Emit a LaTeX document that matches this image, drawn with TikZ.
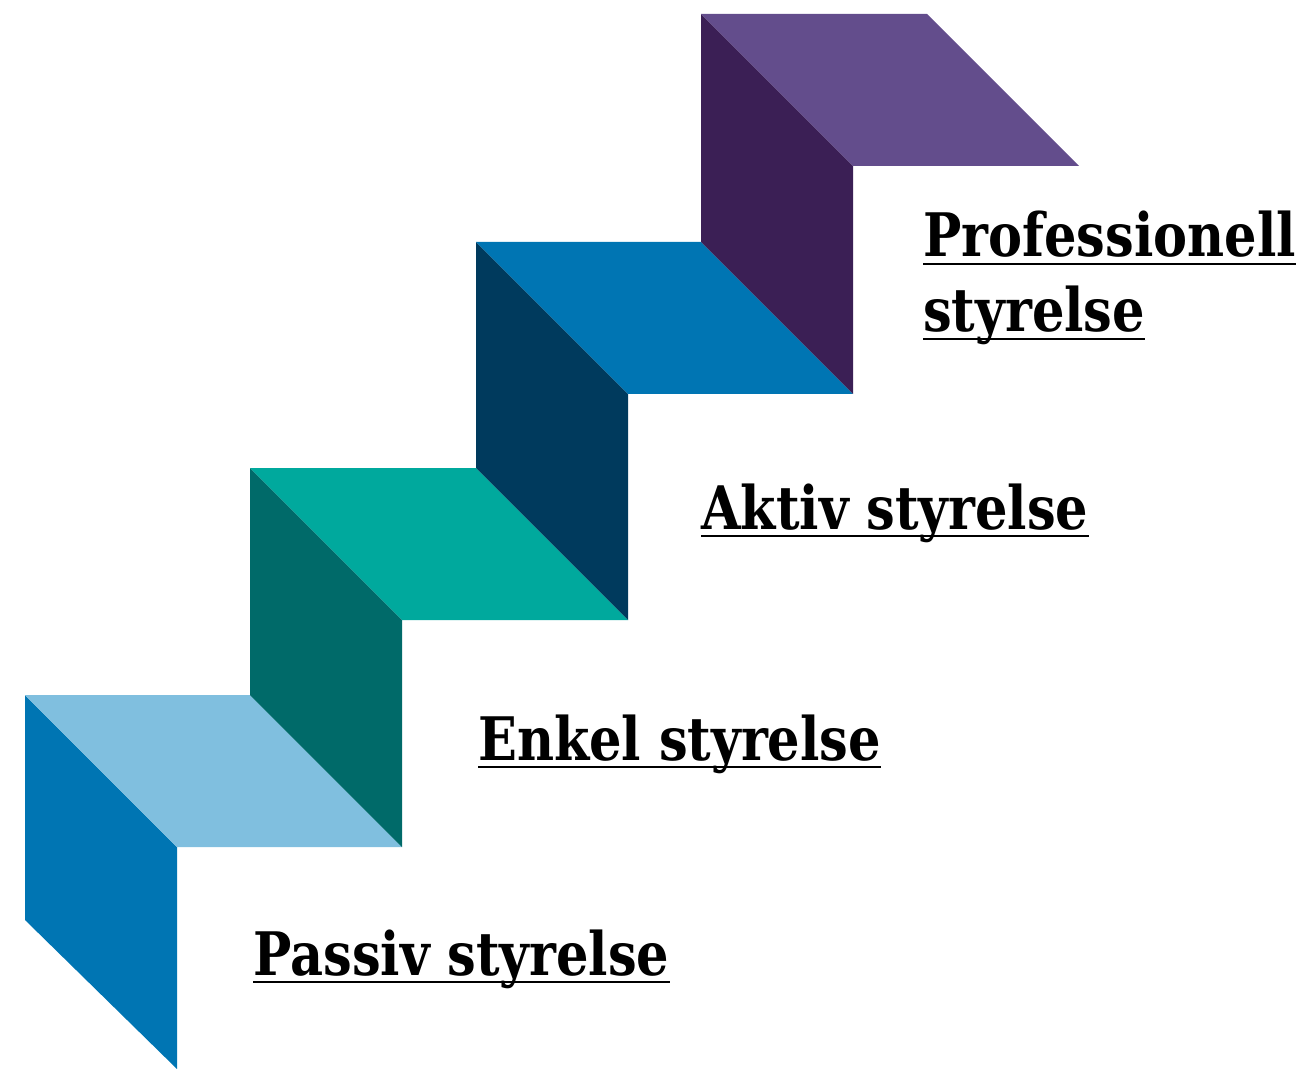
\documentclass[tikz,border=0pt]{standalone}
\usepackage{fontspec}
\newfontfamily\stepfont[FakeStretch=0.85]{DejaVu Serif Bold}
\definecolor{paleblue}{HTML}{80BFDF}
\definecolor{midblue}{HTML}{0075B3}
\definecolor{darkteal}{HTML}{006A69}
\definecolor{teal}{HTML}{00A99D}
\definecolor{navy}{HTML}{003A5D}
\definecolor{darkpurple}{HTML}{3B1F55}
\definecolor{purple}{HTML}{634D8C}
\tikzset{
  steplabel/.style={anchor=base west,inner sep=0pt,font=\stepfont\fontsize{45}{54}\selectfont},
  underline/.style={line width=1.5pt}
}

\begin{document}
\begin{tikzpicture}[x=0.75pt,y=-0.75pt]
  \useasboundingbox (0,0) rectangle (1312,1069);

  % step 1
  \fill[midblue] (25,695) -- (177,847) -- (177,1069) -- (25,920) -- cycle;
  \fill[paleblue] (25,695) -- (250,695) -- (402,847) -- (177,847) -- cycle;

  % step 2
  \fill[darkteal] (250,468) -- (402,620) -- (402,847) -- (250,695) -- cycle;
  \fill[teal] (250,468) -- (476,468) -- (628,620) -- (402,620) -- cycle;

  % step 3
  \fill[navy] (476,242) -- (628,394) -- (628,620) -- (476,468) -- cycle;
  \fill[midblue] (476,242) -- (701,242) -- (853,394) -- (628,394) -- cycle;

  % step 4
  \fill[darkpurple] (701,14) -- (853,166) -- (853,394) -- (701,242) -- cycle;
  \fill[purple] (701,14) -- (927,14) -- (1079,166) -- (853,166) -- cycle;

  % labels
  \node[steplabel] (passiv) at (253,975) {Passiv styrelse};
  \draw[underline] ([yshift=-5.5pt]passiv.base west) -- ([yshift=-5.5pt]passiv.base east);

  \node[steplabel] (enkel) at (478,760) {Enkel styrelse};
  \draw[underline] ([yshift=-5.5pt]enkel.base west) -- ([yshift=-5.5pt]enkel.base east);

  \node[steplabel] (aktiv) at (701,529) {Aktiv styrelse};
  \draw[underline] ([yshift=-5.5pt]aktiv.base west) -- ([yshift=-5.5pt]aktiv.base east);

  \node[steplabel] (prof) at (923,257) {Professionell};
  \draw[underline] ([yshift=-5.5pt]prof.base west) -- ([yshift=-5.5pt]prof.base east);

  \node[steplabel] (profb) at (923,332) {styrelse};
  \draw[underline] ([yshift=-5.5pt]profb.base west) -- ([yshift=-5.5pt]profb.base east);

\end{tikzpicture}
\end{document}
